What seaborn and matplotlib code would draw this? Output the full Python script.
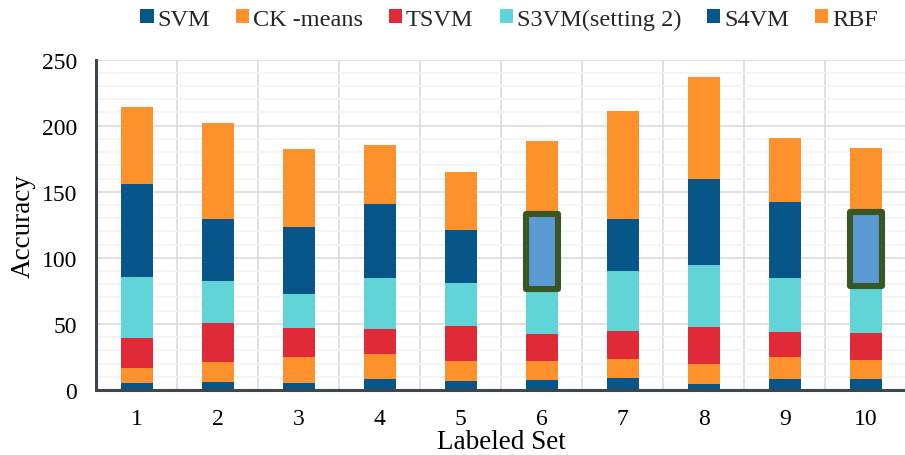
import matplotlib
matplotlib.use("Agg")
import matplotlib.pyplot as plt
from matplotlib.patches import Patch
from matplotlib.ticker import MultipleLocator
import seaborn as sns

# Labeled sets on the x axis
sets = ["1", "2", "3", "4", "5", "6", "7", "8", "9", "10"]

# Stacked accuracy contributions per method
svm = [5.3, 6.3, 5.6, 8.4, 6.8, 7.6, 8.9, 4.8, 8.1, 8.6]
ck_means = [11.4, 15.2, 19.0, 18.9, 15.2, 14.4, 14.6, 14.7, 17.0, 14.2]
tsvm = [23.0, 29.4, 22.5, 19.0, 26.6, 20.0, 21.3, 27.8, 19.0, 20.2]
s3vm = [46.1, 31.4, 25.3, 38.8, 32.4, 34.5, 45.6, 47.1, 40.7, 36.0]
s4vm = [69.9, 46.8, 50.9, 55.4, 39.8, 56.9, 39.2, 65.3, 57.5, 55.4]
rbf = [58.5, 72.9, 58.7, 44.6, 44.5, 54.7, 81.3, 77.5, 48.1, 48.4]

series_names = ["SVM", "CK -means", "TSVM", "S3VM(setting 2)", "S4VM", "RBF"]
series_values = [svm, ck_means, tsvm, s3vm, s4vm, rbf]
series_colors = ["#06568A", "#FD912C", "#E02A38", "#60D4D6", "#06568A", "#FD912C"]

# S4VM segments emphasised with a framed lighter fill
highlight_sets = ["6", "10"]

sns.set_theme(style="white")
plt.rcParams["font.family"] = ["Liberation Serif", "DejaVu Serif"]

fig = plt.figure(figsize=(9.05, 4.56), dpi=100)
ax = fig.add_axes([96.3 / 905, 65 / 456, 810 / 905, 330.4 / 456])

bottom = [0.0] * len(sets)
for name, vals, col in zip(series_names, series_values, series_colors):
    n_before = len(ax.patches)
    sns.barplot(x=sets, y=vals, bottom=bottom, color=col, width=0.4,
                errorbar=None, linewidth=0, saturation=1, ax=ax, zorder=3)
    new_bars = ax.patches[n_before:]
    if name == "S4VM":
        for s, bar in zip(sets, new_bars):
            if s in highlight_sets:
                bar.set_facecolor("#5B9BD5")
                bar.set_edgecolor("#385723")
                bar.set_linewidth(4.4)
                bar.set_joinstyle("round")
                bar.set_zorder(5)
    bottom = [b + v for b, v in zip(bottom, vals)]

ax.set_xlim(-0.5, 9.5)
ax.set_ylim(0, 250)
ax.yaxis.set_major_locator(MultipleLocator(50))
ax.yaxis.set_minor_locator(MultipleLocator(10))
ax.set_xticks(range(len(sets)), sets)
ax.set_xticks([i + 0.5 for i in range(len(sets) - 1)], minor=True)

ax.grid(False)
ax.grid(True, which="minor", axis="y", color="#F2F2F2", linewidth=1.1, zorder=0)
ax.grid(True, which="major", axis="y", color="#D9D9D9", linewidth=1.1, zorder=1)
ax.grid(True, which="minor", axis="x", color="#D9D9D9", linewidth=1.1, zorder=1)
ax.set_axisbelow(True)

for side in ["top", "right"]:
    ax.spines[side].set_visible(False)
for side in ["left", "bottom"]:
    ax.spines[side].set_color("#3C464C")
    ax.spines[side].set_linewidth(2.2)
    ax.spines[side].set_zorder(6)

ax.tick_params(axis="both", which="both", length=0)
ax.tick_params(axis="y", labelsize=17, pad=14, colors="black")
ax.tick_params(axis="x", labelsize=17, pad=13, colors="black")

ax.set_xlabel("Labeled Set", fontsize=19.5, labelpad=0, color="black")
ax.set_ylabel("Accuracy", fontsize=19.5, labelpad=4, color="black")

handles = [Patch(facecolor=c, edgecolor="none") for c in series_colors]
fig.legend(handles, series_names, loc="center", bbox_to_anchor=(509 / 905, 1 - 20 / 456),
           ncol=6, frameon=False, fontsize=17.5, handlelength=0.55, handleheight=0.55,
           handletextpad=0.15, columnspacing=1.07, borderaxespad=0)

fig.savefig("out.png", dpi=100)
